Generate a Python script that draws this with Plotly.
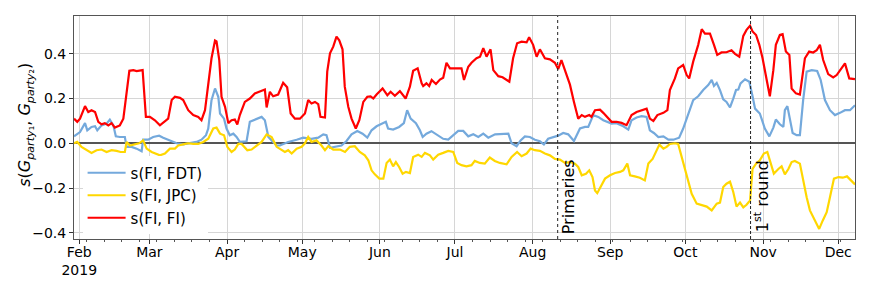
import pandas as pd
import plotly.graph_objects as go

# ---------------- data (days since 2019-02-01, value) ----------------
BASE_DATE = "2019-02-01"

fdt_days = [-2.1, 0.3, 2.3, 3.2, 4.9, 6.3, 7.2, 8.9, 10.9, 12.2,
            13.6, 14.6, 16.2, 18.2, 18.9, 20.9, 22.9, 24.9, 25.5, 27.5,
            29.5, 31.9, 33.5, 36.2, 38.9, 41.5, 44.2, 46.8, 48.8, 50.6,
            51.5, 52.8, 54.2, 55.5, 56.2, 57.8, 58.8, 60.1, 61.5, 62.8,
            64.1, 66.8, 68.1, 70.8, 72.8, 74.1, 75.5, 76.8, 78.8, 80.1,
            83.4, 86.8, 89.4, 92.7, 95.4, 97.4, 98.7, 100.1, 102.1, 104.7,
            106.7, 108.7, 111.0, 113.1, 115.0, 116.7, 118.7, 120.7, 122.4, 123.3,
            125.3, 127.7, 129.6, 130.9, 132.3, 134.4, 136.0, 137.1, 138.6, 140.6,
            142.6, 145.3, 147.3, 149.3, 151.3, 153.3, 155.3, 157.3, 159.3, 161.3,
            163.3, 166.0, 168.6, 171.3, 172.6, 174.6, 176.2, 177.9, 179.9, 181.9,
            183.9, 185.5, 187.2, 189.2, 191.2, 193.2, 195.2, 197.5, 199.9, 201.9,
            203.2, 205.2, 207.2, 209.2, 211.2, 212.5, 214.5, 217.2, 219.2, 220.5,
            222.5, 224.5, 226.5, 227.8, 229.4, 231.2, 233.2, 235.2, 237.2, 239.5,
            241.1, 243.1, 245.1, 247.1, 249.1, 251.1, 252.5, 253.4, 254.5, 255.8,
            257.1, 258.4, 259.8, 261.1, 262.2, 263.1, 264.0, 265.8, 267.5, 268.8,
            269.8, 271.7, 273.7, 275.5, 277.1, 278.1, 279.7, 281.1, 281.7, 282.7,
            283.5, 284.8, 286.4, 287.7, 289.0, 290.4, 292.4, 294.6, 296.0, 297.7,
            299.7, 301.7, 303.7, 305.7, 307.7, 309.7]
fdt_vals = [0.031, 0.05, 0.09, 0.058, 0.073, 0.076, 0.058, 0.08, 0.088, 0.106,
            0.08, 0.031, 0.028, 0.028, -0.016, -0.016, -0.024, -0.036, 0.016, 0.016,
            0.028, 0.034, 0.025, 0.013, 0.0, -0.005, 0.0, 0.006, 0.016, 0.036,
            0.066, 0.193, 0.245, 0.208, 0.133, 0.11, 0.066, 0.036, 0.043, 0.028,
            0.006, 0.009, 0.096, 0.11, 0.118, 0.103, 0.028, 0.013, -0.01, -0.01,
            0.006, 0.016, 0.025, 0.02, 0.025, 0.04, 0.036, -0.02, -0.016, -0.01,
            0.01, 0.04, 0.055, 0.043, 0.025, 0.058, 0.076, 0.085, 0.096, 0.066,
            0.061, 0.073, 0.09, 0.148, 0.11, 0.09, 0.058, 0.028, 0.043, 0.054,
            0.04, 0.02, 0.016, 0.036, 0.055, 0.055, 0.031, 0.04, 0.028, 0.043,
            0.025, 0.04, 0.043, 0.043, 0.0, -0.013, 0.013, 0.031, 0.028, 0.016,
            0.009, -0.005, 0.02, 0.028, 0.034, 0.046, 0.04, 0.01, 0.066, 0.073,
            0.073, 0.126, 0.118, 0.103, 0.096, 0.088, 0.09, 0.076, 0.061, 0.103,
            0.115, 0.121, 0.118, 0.058, 0.046, 0.028, 0.031, 0.016, 0.016, 0.025,
            0.066, 0.126, 0.193, 0.21, 0.238, 0.26, 0.283, 0.256, 0.27, 0.238,
            0.196, 0.185, 0.16, 0.2, 0.238, 0.24, 0.268, 0.286, 0.275, 0.21,
            0.155, 0.133, 0.066, 0.031, 0.07, 0.106, 0.085, 0.073, 0.148, 0.166,
            0.126, 0.046, 0.036, 0.036, 0.193, 0.32, 0.327, 0.323, 0.283, 0.193,
            0.148, 0.126, 0.136, 0.148, 0.148, 0.17]

jpc_days = [-2.1, -0.8, 0.9, 2.9, 4.9, 6.9, 8.9, 10.9, 12.9, 14.9,
            16.5, 18.2, 18.9, 20.2, 22.2, 23.9, 25.5, 26.9, 28.9, 30.9,
            32.2, 34.2, 36.2, 38.2, 39.5, 41.5, 43.5, 45.5, 47.5, 49.5,
            51.5, 53.5, 54.8, 56.2, 57.8, 59.1, 60.8, 62.1, 63.5, 64.8,
            67.1, 68.8, 70.8, 72.8, 74.8, 76.8, 78.8, 80.1, 82.1, 83.4,
            84.8, 86.8, 88.8, 90.1, 91.4, 92.7, 94.7, 96.7, 98.1, 99.4,
            101.4, 104.1, 106.1, 108.0, 110.0, 112.0, 114.0, 115.4, 116.7, 118.0,
            119.8, 121.4, 122.7, 124.0, 125.3, 126.4, 127.7, 129.1, 130.4, 132.0,
            133.3, 135.3, 136.7, 138.0, 140.0, 141.3, 143.3, 145.3, 147.3, 149.3,
            150.9, 152.6, 154.6, 156.6, 157.9, 159.9, 161.9, 163.9, 165.9, 167.9,
            170.6, 172.6, 174.8, 176.6, 178.6, 180.2, 181.9, 183.9, 185.9, 187.9,
            189.9, 191.9, 193.9, 195.9, 197.9, 199.2, 200.6, 202.3, 203.6, 204.9,
            205.9, 206.8, 208.5, 209.9, 211.9, 213.9, 215.9, 217.2, 218.8, 219.9,
            221.8, 223.8, 225.8, 227.2, 228.9, 230.2, 231.6, 233.2, 234.5, 235.8,
            237.8, 239.1, 240.5, 242.5, 244.5, 246.5, 248.5, 250.5, 252.5, 254.5,
            255.8, 257.1, 258.4, 259.8, 261.1, 262.4, 263.8, 265.1, 266.4, 267.8,
            268.8, 270.2, 271.7, 273.3, 274.7, 275.7, 277.3, 279.1, 280.4, 281.7,
            283.1, 284.4, 285.7, 287.7, 289.0, 290.4, 291.7, 293.7, 295.4, 296.8,
            298.4, 299.7, 301.3, 303.1, 304.8, 306.5, 308.0, 309.7]
jpc_vals = [0.0, 0.006, -0.016, -0.031, -0.043, -0.031, -0.028, -0.039, -0.031, -0.034,
            -0.039, -0.039, 0.006, -0.01, -0.005, 0.0, 0.013, -0.024, -0.039, -0.046,
            -0.054, -0.046, -0.024, -0.024, -0.01, -0.005, 0.0, -0.003, -0.003, 0.006,
            0.02, 0.066, 0.07, 0.043, 0.036, -0.016, -0.039, -0.028, -0.003, -0.003,
            -0.031, -0.028, -0.013, 0.006, 0.04, 0.028, -0.016, -0.024, -0.039, -0.031,
            -0.046, -0.024, -0.016, 0.0, 0.028, 0.006, 0.013, -0.01, -0.031, -0.013,
            -0.028, -0.028, -0.039, -0.016, -0.013, -0.039, -0.054, -0.076, -0.121, -0.139,
            -0.158, -0.158, -0.088, -0.073, -0.103, -0.084, -0.106, -0.136, -0.128, -0.133,
            -0.061, -0.051, -0.061, -0.043, -0.054, -0.073, -0.051, -0.043, -0.034, -0.039,
            -0.088, -0.098, -0.103, -0.098, -0.079, -0.088, -0.091, -0.064, -0.079, -0.088,
            -0.094, -0.061, -0.039, -0.058, -0.046, -0.024, -0.031, -0.034, -0.046, -0.054,
            -0.07, -0.073, -0.088, -0.084, -0.091, -0.106, -0.143, -0.136, -0.121, -0.151,
            -0.211, -0.223, -0.19, -0.158, -0.143, -0.133, -0.128, -0.121, -0.091, -0.143,
            -0.148, -0.154, -0.166, -0.091, -0.07, -0.039, -0.006, -0.024, -0.016, -0.003,
            0.0, -0.003, -0.061, -0.151, -0.226, -0.27, -0.278, -0.283, -0.3, -0.27,
            -0.265, -0.196, -0.181, -0.172, -0.218, -0.283, -0.265, -0.287, -0.275, -0.256,
            -0.115, -0.091, -0.076, -0.046, -0.039, -0.073, -0.136, -0.115, -0.103, -0.139,
            -0.115, -0.084, -0.079, -0.091, -0.166, -0.241, -0.3, -0.342, -0.383, -0.346,
            -0.308, -0.241, -0.158, -0.151, -0.154, -0.148, -0.163, -0.184]

fi_days = [-2.1, -0.8, 0.3, 2.3, 3.6, 4.9, 6.3, 7.6, 8.9, 10.2,
           11.6, 12.9, 14.2, 16.2, 17.6, 18.6, 20.0, 21.6, 22.9, 25.3,
           26.6, 28.2, 30.2, 32.2, 34.2, 35.5, 36.9, 38.2, 40.2, 41.5,
           43.5, 45.5, 47.5, 48.8, 50.2, 51.5, 52.8, 54.2, 54.8, 55.9,
           56.8, 58.2, 59.5, 60.8, 62.1, 63.1, 64.1, 66.1, 68.1, 70.1,
           72.8, 74.1, 74.8, 76.1, 77.4, 79.4, 81.4, 83.0, 84.4, 86.1,
           88.1, 90.1, 91.4, 92.7, 94.1, 95.4, 96.3, 98.1, 99.0, 100.1,
           101.4, 102.7, 103.8, 105.1, 106.0, 107.4, 108.7, 110.4, 111.8, 113.4,
           115.0, 116.3, 117.4, 118.7, 121.1, 123.0, 124.3, 126.0, 128.0, 130.3,
           132.0, 133.3, 135.1, 136.7, 137.3, 138.6, 139.7, 140.7, 142.4, 144.0,
           145.3, 146.6, 148.0, 150.0, 152.6, 153.6, 155.3, 156.6, 158.6, 160.0,
           161.3, 162.6, 164.2, 165.3, 167.3, 169.0, 170.6, 171.7, 173.2, 174.8,
           176.6, 178.6, 179.6, 181.2, 182.6, 183.9, 185.9, 187.9, 189.9, 191.2,
           192.5, 194.5, 195.9, 197.5, 199.2, 200.6, 201.9, 203.6, 204.5, 205.9,
           207.9, 209.2, 211.2, 212.5, 214.5, 216.5, 218.5, 220.5, 222.5, 224.5,
           226.5, 227.8, 229.2, 230.8, 233.2, 234.8, 235.8, 237.8, 239.1, 241.1,
           242.5, 243.5, 245.1, 247.1, 248.5, 249.8, 251.8, 253.4, 254.7, 256.4,
           258.4, 260.4, 261.8, 263.5, 265.1, 266.4, 267.8, 268.8, 270.2, 271.5,
           272.8, 274.7, 275.7, 277.1, 278.1, 279.7, 280.8, 282.1, 283.5, 284.4,
           286.1, 287.7, 289.7, 291.4, 293.0, 294.4, 295.7, 297.0, 299.0, 301.0,
           302.4, 304.0, 305.7, 307.4, 309.7]
fi_vals = [0.11, 0.096, 0.11, 0.166, 0.14, 0.148, 0.14, 0.096, 0.085, 0.09,
           0.08, 0.09, 0.07, 0.08, 0.11, 0.208, 0.324, 0.327, 0.323, 0.327,
           0.118, 0.118, 0.103, 0.08, 0.096, 0.11, 0.193, 0.208, 0.203, 0.193,
           0.148, 0.126, 0.118, 0.103, 0.148, 0.268, 0.38, 0.459, 0.455, 0.372,
           0.208, 0.163, 0.09, 0.103, 0.106, 0.084, 0.126, 0.185, 0.2, 0.223,
           0.235, 0.24, 0.16, 0.23, 0.21, 0.218, 0.27, 0.25, 0.133, 0.11,
           0.11, 0.133, 0.193, 0.178, 0.185, 0.175, 0.118, 0.115, 0.32, 0.402,
           0.432, 0.477, 0.46, 0.42, 0.253, 0.163, 0.11, 0.066, 0.103, 0.185,
           0.208, 0.21, 0.2, 0.218, 0.245, 0.215, 0.23, 0.212, 0.233, 0.2,
           0.253, 0.324, 0.335, 0.268, 0.256, 0.268, 0.256, 0.283, 0.265, 0.285,
           0.293, 0.36, 0.335, 0.335, 0.335, 0.283, 0.342, 0.36, 0.38, 0.387,
           0.425, 0.387, 0.42, 0.327, 0.30, 0.295, 0.283, 0.275, 0.38, 0.447,
           0.454, 0.451, 0.474, 0.44, 0.387, 0.42, 0.38, 0.375, 0.36, 0.332,
           0.372, 0.305, 0.262, 0.185, 0.11, 0.126, 0.118, 0.126, 0.118, 0.148,
           0.15, 0.136, 0.11, 0.096, 0.096, 0.091, 0.081, 0.126, 0.14, 0.148,
           0.155, 0.11, 0.1, 0.126, 0.136, 0.148, 0.238, 0.29, 0.335, 0.35,
           0.305, 0.29, 0.365, 0.44, 0.51, 0.49, 0.49, 0.44, 0.395, 0.406,
           0.407, 0.416, 0.40, 0.387, 0.48, 0.507, 0.525, 0.5, 0.484, 0.44,
           0.38, 0.268, 0.21, 0.327, 0.44, 0.484, 0.488, 0.41, 0.395, 0.245,
           0.223, 0.218, 0.38, 0.41, 0.406, 0.416, 0.44, 0.372, 0.309, 0.294,
           0.305, 0.33, 0.357, 0.29, 0.287]

series_names = ["s(FI, FDT)", "s(FI, JPC)", "s(FI, FI)"]
series_colors = ["#74a9dc", "#ffd700", "#ff0000"]

month_ticks = ["2019-02-01", "2019-03-01", "2019-04-01", "2019-05-01", "2019-06-01",
               "2019-07-01", "2019-08-01", "2019-09-01", "2019-10-01", "2019-11-01",
               "2019-12-01"]
month_labels = ["Feb<br>2019", "Mar", "Apr", "May", "Jun", "Jul", "Aug", "Sep",
                "Oct", "Nov", "Dec"]
y_ticks = [-0.4, -0.2, 0.0, 0.2, 0.4]
y_labels = ["\u22120.4", "\u22120.2", "0.0", "0.2", "0.4"]

event_dates = ["2019-08-11", "2019-10-27"]
event_labels = ["Primaries", "1<sup>st</sup> round"]

y_title = ("<i>s</i>(<i>G</i><sub><i>party</i>\u2081</sub>, "
           "<i>G</i><sub><i>party</i>\u2082</sub>)")

x_span_days = [-2.1, 309.7]
y_span = [-0.428, 0.569]

# ---------------- figure ----------------
base = pd.Timestamp(BASE_DATE)


def to_dates(days):
    return base + pd.to_timedelta(days, unit="D")


FONT = "DejaVu Sans, Verdana, sans-serif"
fig = go.Figure()
for days, vals, name, col in zip([fdt_days, jpc_days, fi_days],
                                 [fdt_vals, jpc_vals, fi_vals],
                                 series_names, series_colors):
    fig.add_trace(go.Scatter(x=to_dates(days), y=vals, mode="lines", name=name,
                             line=dict(color=col, width=2.2)))

dash_styles = ["dot", "3px,2px"]
for d, lab, ds in zip(event_dates, event_labels, dash_styles):
    fig.add_shape(type="line", xref="x", yref="paper", x0=d, x1=d, y0=0, y1=1,
                  line=dict(color="#222222", width=1, dash=ds), layer="above")
    fig.add_annotation(x=d, xref="x", y=0.19, yref="paper", text=lab,
                       textangle=-90, showarrow=False, xshift=11,
                       xanchor="center", yanchor="middle",
                       font=dict(size=16, color="black", family=FONT))

# y-axis title as a rotated annotation (keeps margins fixed)
fig.add_annotation(x=-0.062, xref="paper", y=0.51, yref="paper", text=y_title,
                   textangle=-90, showarrow=False, xanchor="center",
                   yanchor="middle", font=dict(size=16, color="black", family=FONT))

x_range = to_dates(x_span_days)
# page body adds an 8px offset, so the figure is 8px smaller and margins shifted
fig.update_layout(
    width=864, height=283,
    margin=dict(l=66, r=17, t=8, b=52, autoexpand=False),
    paper_bgcolor="white", plot_bgcolor="white",
    font=dict(family=FONT, size=14, color="black"),
    showlegend=True,
    legend=dict(x=0.011, y=0.37, xanchor="left", yanchor="top",
                bgcolor="white", borderwidth=0, itemwidth=38,
                font=dict(size=15, family=FONT), tracegroupgap=0),
    xaxis=dict(type="date", range=[x_range[0], x_range[1]], automargin=False,
               tickvals=month_ticks, ticktext=month_labels,
               ticks="outside", ticklen=4, tickcolor="#333",
               ticklabelstandoff=-4,
               showgrid=True, gridcolor="#d6d6d6", gridwidth=1,
               showline=True, linecolor="#555", linewidth=1, mirror=True,
               zeroline=False,
               minor=dict(ticks="outside", ticklen=2, tickcolor="#555",
                          tick0="2019-01-07", dtick=7 * 86400000, showgrid=False),
               tickfont=dict(size=14, family=FONT)),
    yaxis=dict(range=y_span, tickvals=y_ticks, ticktext=y_labels, automargin=False,
               ticks="outside", ticklen=4, tickcolor="#333",
               showgrid=True, gridcolor="#d6d6d6", gridwidth=1,
               showline=True, linecolor="#555", linewidth=1, mirror=True,
               zeroline=True, zerolinecolor="#555", zerolinewidth=1.5,
               tickfont=dict(size=14, family=FONT)),
)

fig.write_html("out.html")
